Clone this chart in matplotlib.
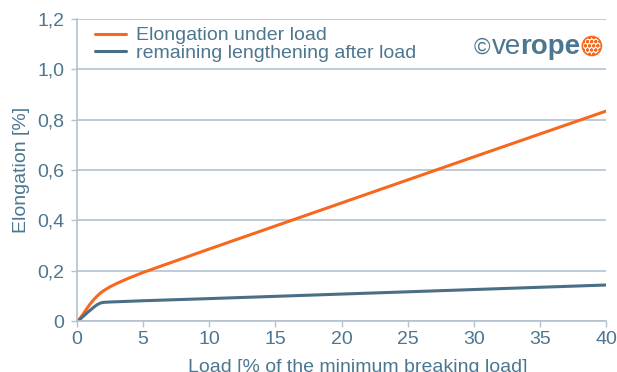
import matplotlib
matplotlib.use("Agg")
import matplotlib.pyplot as plt
from matplotlib.patches import Ellipse
import numpy as np

load = [0, 0.25, 0.5, 0.75, 1.0, 1.25, 1.5, 1.75, 2.0, 2.5, 3.0, 3.5, 4.0, 5.0, 10, 20, 30, 40]
elong_under_load = [-0.005, 0.012, 0.03, 0.05, 0.068, 0.084, 0.098, 0.11, 0.12, 0.136, 0.149, 0.161, 0.172, 0.193, 0.286, 0.469, 0.652, 0.834]
remaining = [-0.005, 0.008, 0.02, 0.032, 0.043, 0.054, 0.064, 0.071, 0.074, 0.0755, 0.0765, 0.0775, 0.0785, 0.0805, 0.089, 0.107, 0.125, 0.143]

x_ticks = [0, 5, 10, 15, 20, 25, 30, 35, 40]
y_ticks = [0, 0.2, 0.4, 0.6, 0.8, 1.0, 1.2]
y_tick_labels = ["0", "0,2", "0,4", "0,6", "0,8", "1,0", "1,2"]
series_labels = ["Elongation under load", "remaining lengthening after load"]

ORANGE = "#f7681f"
BLUE = "#4a6e84"
TEXT = "#4d7690"
GRID = "#b3c2cf"

plt.rcParams['font.family'] = ['Liberation Sans', 'DejaVu Sans']

W, H = 617, 372
fig = plt.figure(figsize=(W/100, H/100), dpi=100)
ax = fig.add_axes([77/W, 51/H, 529/W, 302/H])

ax.plot(load, elong_under_load, color=ORANGE, lw=2.2, label=series_labels[0], solid_capstyle='round')
ax.plot(load, remaining, color=BLUE, lw=2.2, label=series_labels[1], solid_capstyle='round')

ax.set_xlim(0, 40)
ax.set_ylim(0, 1.2)
ax.set_xticks(x_ticks)
ax.set_yticks(y_ticks)
ax.set_yticklabels(y_tick_labels)
ax.grid(axis='y', color=GRID, lw=1.2)
ax.set_axisbelow(True)
for s in ['top', 'right']:
    ax.spines[s].set_visible(False)
for s in ['left', 'bottom']:
    ax.spines[s].set_color(GRID)
    ax.spines[s].set_linewidth(1.2)
ax.tick_params(colors=GRID, labelcolor=TEXT, labelsize=14, length=4, width=1.0)
ax.tick_params(axis='x', pad=3)
ax.tick_params(axis='y', pad=5)

ax.set_xlabel("Load [% of the minimum breaking load]", color=TEXT, fontsize=14, labelpad=8)
ax.xaxis.label.set_x((358 - 77) / 529)
ax.set_ylabel("Elongation [%]", color=TEXT, fontsize=14, labelpad=5)

leg = ax.legend(loc='upper left', frameon=False, fontsize=14, handlelength=1.6,
                borderaxespad=0.0, bbox_to_anchor=(0.02, 1.0), labelspacing=0.0,
                handletextpad=0.5)
for t in leg.get_texts():
    t.set_color(TEXT)

# logo, placed piece by piece
fig.canvas.draw()
r = fig.canvas.get_renderer()
ybase = 1 - 54/H
x0 = 474
t1 = fig.text(x0/W, ybase, "©", color=TEXT, fontsize=16, va='baseline', ha='left')
bb = t1.get_window_extent(r)
t2 = fig.text((bb.x1 + 1)/W, ybase, "ve", color=TEXT, fontsize=20, va='baseline', ha='left')
bb = t2.get_window_extent(r)
t3 = fig.text((bb.x1 - 1)/W, ybase, "rope", color=TEXT, fontsize=20, fontweight='bold', va='baseline', ha='left')
bb = t3.get_window_extent(r)
cx = bb.x1 + 12
cy = H - 46
rad = 9.5
ell = Ellipse((cx/W, cy/H), 2*rad/W, 2*rad/H, transform=fig.transFigure,
              facecolor='white', edgecolor=ORANGE, hatch='oooo', lw=1.2)
fig.patches.append(ell)

fig.savefig("out.png", dpi=100)
